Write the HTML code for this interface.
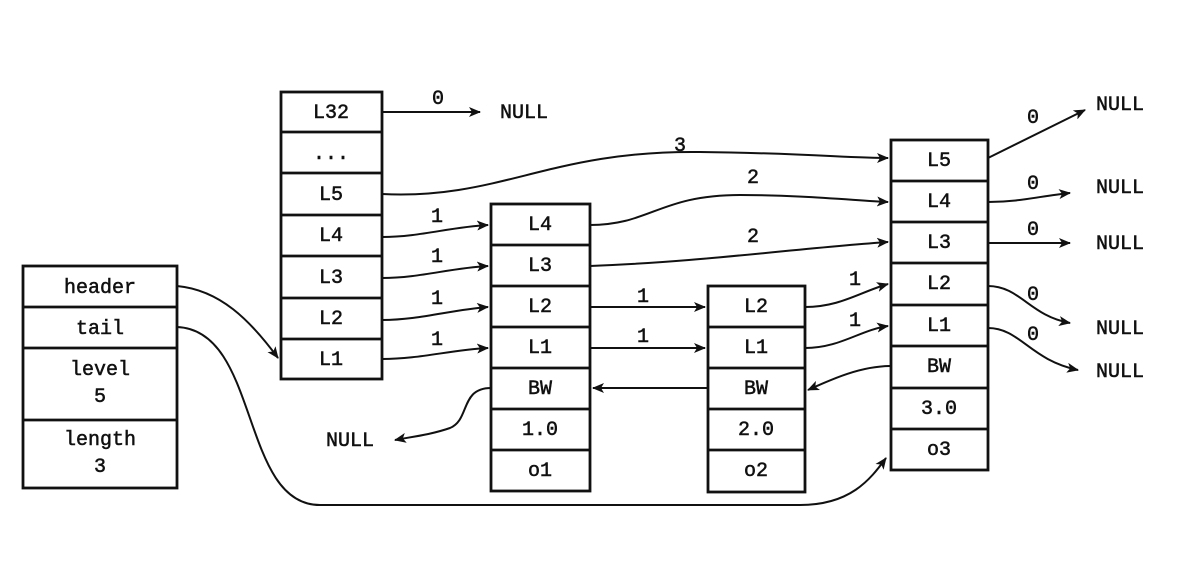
<!DOCTYPE html>
<html><head><meta charset="utf-8"><style>
html,body{margin:0;padding:0;background:#fff;}
svg text{font-family:"Liberation Mono",monospace;font-size:20px;fill:#111;stroke:#111;stroke-width:0.5;text-anchor:middle;}
</style></head><body>
<svg width="1202" height="576" viewBox="0 0 1202 576" xmlns="http://www.w3.org/2000/svg">
<defs><marker id="a" markerWidth="12" markerHeight="10" refX="11" refY="5" orient="auto" markerUnits="userSpaceOnUse"><path d="M0,0 L12,5 L0,10 L3,5 Z" fill="#111"/></marker></defs>
<g fill="none" stroke="#111" stroke-width="2.8">
<rect x="23" y="266" width="154" height="222"/>
<line x1="23" y1="307" x2="177" y2="307"/><line x1="23" y1="348" x2="177" y2="348"/><line x1="23" y1="420" x2="177" y2="420"/>
<rect x="281" y="92" width="101" height="287"/>
<line x1="281" y1="132" x2="382" y2="132"/><line x1="281" y1="173" x2="382" y2="173"/><line x1="281" y1="215" x2="382" y2="215"/><line x1="281" y1="256" x2="382" y2="256"/><line x1="281" y1="298" x2="382" y2="298"/><line x1="281" y1="339" x2="382" y2="339"/>
<rect x="491" y="204" width="99" height="287"/>
<line x1="491" y1="245" x2="590" y2="245"/><line x1="491" y1="286" x2="590" y2="286"/><line x1="491" y1="327" x2="590" y2="327"/><line x1="491" y1="368" x2="590" y2="368"/><line x1="491" y1="409" x2="590" y2="409"/><line x1="491" y1="450" x2="590" y2="450"/>
<rect x="708" y="286" width="97" height="206"/>
<line x1="708" y1="327" x2="805" y2="327"/><line x1="708" y1="368" x2="805" y2="368"/><line x1="708" y1="409" x2="805" y2="409"/><line x1="708" y1="450" x2="805" y2="450"/>
<rect x="891" y="140" width="97" height="330"/>
<line x1="891" y1="181" x2="988" y2="181"/><line x1="891" y1="222" x2="988" y2="222"/><line x1="891" y1="263" x2="988" y2="263"/><line x1="891" y1="305" x2="988" y2="305"/><line x1="891" y1="346" x2="988" y2="346"/><line x1="891" y1="388" x2="988" y2="388"/><line x1="891" y1="429" x2="988" y2="429"/>
</g>
<g fill="none" stroke="#111" stroke-width="2" marker-end="url(#a)">
<path d="M382,112 L480,112"/>
<path d="M177,286 C220,290 250,320 278,358"/>
<path d="M177,327 C260,330 240,505 320,505 L800,505 C850,505 870,480 886,458"/>
<path d="M382,194 C500,200 550,150 700,152 C800,153 850,158 888,158"/>
<path d="M382,237 C420,237 450,227 488,225"/>
<path d="M382,278 C420,278 450,268 488,266"/>
<path d="M382,320 C420,320 450,310 488,307"/>
<path d="M382,359 C420,359 450,350 488,348"/>
<path d="M590,225 C650,225 660,195 740,195 C800,195 850,200 888,202"/>
<path d="M590,266 C700,262 800,248 888,242"/>
<path d="M590,307 L705,307"/>
<path d="M590,348 L705,348"/>
<path d="M805,307 C840,307 860,292 888,284"/>
<path d="M805,348 C840,348 860,330 888,326"/>
<path d="M491,388 C460,388 470,420 450,428 C430,435 410,437 395,440"/>
<path d="M708,388 L593,388"/>
<path d="M891,366 C860,366 830,380 808,390"/>
<path d="M988,158 L1085,110"/>
<path d="M988,202 C1020,202 1040,196 1070,193"/>
<path d="M988,243 L1070,243"/>
<path d="M988,286 C1020,286 1030,316 1070,323"/>
<path d="M988,328 C1020,328 1030,360 1078,370"/>
</g>
<text x="100" y="293">header</text><text x="100" y="334">tail</text>
<text x="100" y="375">level</text><text x="100" y="402">5</text>
<text x="100" y="445">length</text><text x="100" y="472">3</text>
<text x="331" y="118">L32</text><text x="331" y="159">...</text><text x="331" y="200">L5</text><text x="331" y="241">L4</text><text x="331" y="283">L3</text><text x="331" y="324">L2</text><text x="331" y="365">L1</text>
<text x="540" y="230">L4</text><text x="540" y="271">L3</text><text x="540" y="312">L2</text><text x="540" y="353">L1</text><text x="540" y="394">BW</text><text x="540" y="435">1.0</text><text x="540" y="476">o1</text>
<text x="756" y="312">L2</text><text x="756" y="353">L1</text><text x="756" y="394">BW</text><text x="756" y="435">2.0</text><text x="756" y="476">o2</text>
<text x="939" y="166">L5</text><text x="939" y="207">L4</text><text x="939" y="248">L3</text><text x="939" y="289">L2</text><text x="939" y="331">L1</text><text x="939" y="372">BW</text><text x="939" y="414">3.0</text><text x="939" y="455">o3</text>
<text x="438" y="104">0</text><text x="524" y="118">NULL</text>
<text x="680" y="151">3</text><text x="753" y="183">2</text><text x="753" y="242">2</text>
<text x="437" y="222">1</text><text x="437" y="262">1</text><text x="437" y="304">1</text><text x="437" y="345">1</text>
<text x="643" y="302">1</text><text x="643" y="342">1</text>
<text x="855" y="285">1</text><text x="855" y="326">1</text>
<text x="350" y="446">NULL</text>
<text x="1033" y="123">0</text><text x="1120" y="110">NULL</text>
<text x="1033" y="189">0</text><text x="1120" y="193">NULL</text>
<text x="1033" y="235">0</text><text x="1120" y="249">NULL</text>
<text x="1033" y="300">0</text><text x="1120" y="334">NULL</text>
<text x="1033" y="340">0</text><text x="1120" y="377">NULL</text>
</svg>
</body></html>
